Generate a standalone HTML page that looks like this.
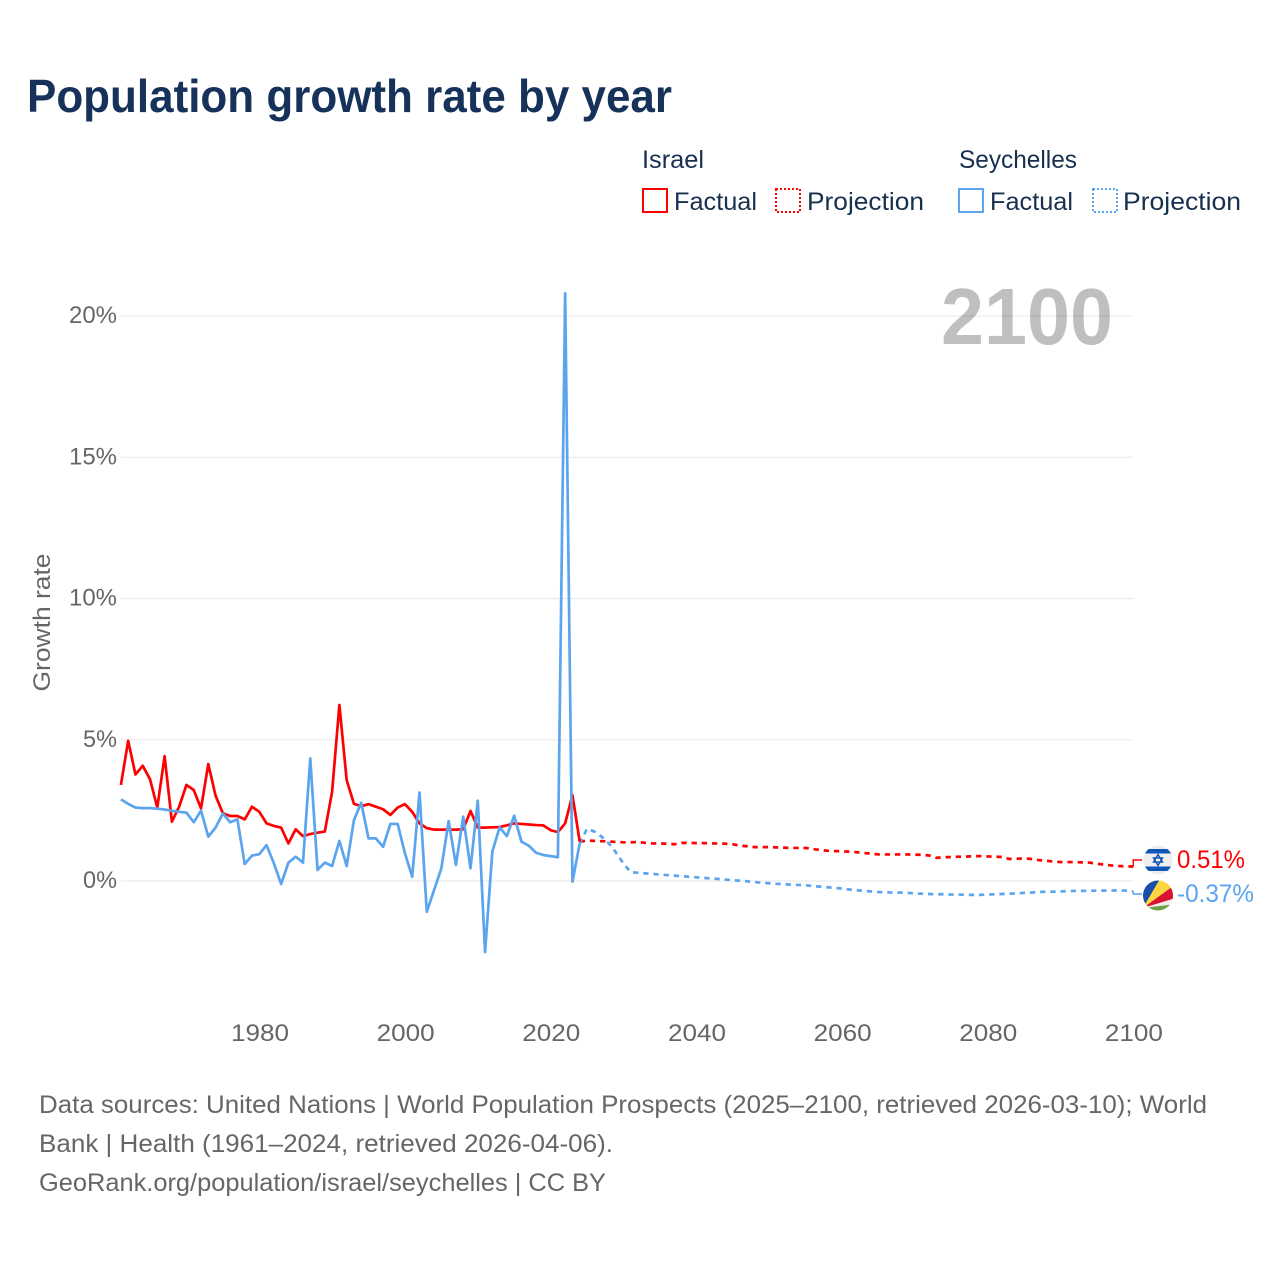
<!DOCTYPE html>
<html lang="en">
<head>
<meta charset="utf-8">
<title>Population growth rate by year</title>
<style>
  html, body { margin: 0; padding: 0; background: #fff; }
  svg { display: block; font-family: "Liberation Sans", sans-serif; }
  .muted { fill: #666; }
  .legend { fill: #17304f; font-size: 25px; }
</style>
</head>
<body>
<svg id="chart" xmlns="http://www.w3.org/2000/svg" width="1280" height="1280" viewBox="0 0 1280 1280">
  <rect x="0" y="0" width="1280" height="1280" fill="#fff"/>
  <text x="27" y="112" font-size="46" font-weight="700" fill="#17325a" textLength="645" lengthAdjust="spacingAndGlyphs">Population growth rate by year</text>

  <g>
    <text class="legend" x="642" y="168" textLength="62" lengthAdjust="spacingAndGlyphs">Israel</text>
    <text class="legend" x="959" y="168" textLength="118" lengthAdjust="spacingAndGlyphs">Seychelles</text>
    <g>
      <rect x="643" y="189" width="24" height="23" fill="none" stroke="#ff0000" stroke-width="2"/>
      <text class="legend" x="674" y="210" textLength="83" lengthAdjust="spacingAndGlyphs">Factual</text>
    </g>
    <g>
      <rect x="776" y="189" width="24" height="23" fill="none" stroke="#ff0000" stroke-width="2" stroke-dasharray="2 2"/>
      <text class="legend" x="807" y="210" textLength="117" lengthAdjust="spacingAndGlyphs">Projection</text>
    </g>
    <g>
      <rect x="959" y="189" width="24" height="23" fill="none" stroke="#5ba4ee" stroke-width="2"/>
      <text class="legend" x="990" y="210" textLength="83" lengthAdjust="spacingAndGlyphs">Factual</text>
    </g>
    <g>
      <rect x="1093" y="189" width="24" height="23" fill="none" stroke="#5ba4ee" stroke-width="2" stroke-dasharray="2 2"/>
      <text class="legend" x="1123" y="210" textLength="118" lengthAdjust="spacingAndGlyphs">Projection</text>
    </g>
  </g>

  <g id="grid"></g>
  <g id="yticks"></g>
  <g id="xticks"></g>
  <text class="muted" x="0" y="0" font-size="24" text-anchor="middle" textLength="138" lengthAdjust="spacingAndGlyphs" transform="translate(50 622.5) rotate(-90)">Growth rate</text>
  <text x="941" y="344" font-size="80" font-weight="700" fill="#000000" fill-opacity="0.25" textLength="172" lengthAdjust="spacingAndGlyphs">2100</text>

  <g id="series"></g>

  <defs>
    <clipPath id="clip-il"><circle cx="1158" cy="860" r="14.5"/></clipPath>
    <clipPath id="clip-sc"><circle cx="1158" cy="895.5" r="15"/></clipPath>
  </defs>
  <g id="flag-israel" clip-path="url(#clip-il)">
    <rect x="1142" y="844" width="32" height="32" fill="#eeeeee"/>
    <rect x="1142" y="849" width="32" height="4.5" fill="#0f55b5"/>
    <rect x="1142" y="866.5" width="32" height="4.5" fill="#0f55b5"/>
    <rect x="1142" y="844" width="32" height="5" fill="#eeeeee"/>
    <path d="M1158 854.5l4.5 7.6h-9zM1158 865.5l-4.5-7.6h9z" fill="none" stroke="#0f55b5" stroke-width="1.4"/>
  </g>
  <g id="flag-seychelles" clip-path="url(#clip-sc)">
    <rect x="1142" y="879" width="32" height="33" fill="#eeeeee"/>
    <polygon points="1143,908 1143,879 1160,879" fill="#1c50a8"/>
    <polygon points="1143,908 1160,879 1176,879 1176,884" fill="#fdd53f"/>
    <polygon points="1143,908 1176,884 1176,898" fill="#d8122f"/>
    <polygon points="1143,908 1176,898 1176,905" fill="#eeeeee"/>
    <polygon points="1143,908 1176,904 1176,913 1143,913" fill="#6fa14a"/>
  </g>

  <g>
    <text class="muted" x="39" y="1113" font-size="25" textLength="1168" lengthAdjust="spacingAndGlyphs">Data sources: United Nations | World Population Prospects (2025–2100, retrieved 2026-03-10); World</text>
    <text class="muted" x="39" y="1152" font-size="25" textLength="574" lengthAdjust="spacingAndGlyphs">Bank | Health (1961–2024, retrieved 2026-04-06).</text>
    <text class="muted" x="39" y="1191" font-size="25" textLength="567" lengthAdjust="spacingAndGlyphs">GeoRank.org/population/israel/seychelles | CC BY</text>
  </g>
</svg>
<script>
const xTicks = [1980, 2000, 2020, 2040, 2060, 2080, 2100];
const yTicks = [0, 5, 10, 15, 20];
const factualStartYear = 1961;
const projectionStartYear = 2024;

const israelFactual = [3.40,4.96,3.77,4.08,3.60,2.60,4.42,2.10,2.63,3.40,3.22,2.57,4.14,3.02,2.40,2.30,2.30,2.18,2.63,2.45,2.04,1.95,1.89,1.33,1.83,1.59,1.66,1.71,1.75,3.16,6.23,3.57,2.73,2.65,2.72,2.63,2.54,2.34,2.60,2.72,2.45,2.04,1.87,1.82,1.82,1.82,1.82,1.83,2.48,1.89,1.89,1.90,1.91,1.97,2.04,2.02,2.00,1.98,1.97,1.80,1.73,2.04,3.04,1.39];
const israelProjection = [1.39,1.43,1.42,1.41,1.40,1.38,1.37,1.37,1.38,1.35,1.33,1.33,1.32,1.30,1.35,1.35,1.34,1.34,1.33,1.33,1.32,1.30,1.25,1.23,1.20,1.20,1.20,1.19,1.18,1.17,1.17,1.17,1.13,1.10,1.07,1.06,1.05,1.04,1.02,0.99,0.97,0.94,0.94,0.94,0.94,0.94,0.93,0.93,0.90,0.82,0.84,0.85,0.86,0.86,0.88,0.88,0.87,0.86,0.85,0.78,0.79,0.80,0.78,0.74,0.72,0.69,0.67,0.67,0.67,0.66,0.65,0.61,0.58,0.55,0.53,0.52,0.51];
const seychellesFactual = [2.89,2.73,2.60,2.58,2.58,2.56,2.53,2.49,2.45,2.42,2.08,2.49,1.57,1.89,2.39,2.08,2.18,0.60,0.90,0.95,1.27,0.63,-0.11,0.65,0.86,0.65,4.34,0.39,0.65,0.53,1.42,0.53,2.16,2.77,1.51,1.51,1.21,2.02,2.02,0.98,0.15,3.13,-1.09,-0.32,0.45,2.12,0.57,2.28,0.45,2.84,-2.52,1.04,1.90,1.59,2.31,1.39,1.25,1.00,0.92,0.88,0.84,20.8,-0.02,1.33];
const seychellesProjection = [1.33,1.85,1.75,1.57,1.33,1.00,0.62,0.31,0.29,0.27,0.25,0.23,0.21,0.19,0.17,0.15,0.13,0.11,0.09,0.07,0.05,0.03,0.01,-0.01,-0.04,-0.06,-0.08,-0.10,-0.11,-0.13,-0.14,-0.15,-0.18,-0.20,-0.22,-0.24,-0.27,-0.30,-0.33,-0.35,-0.37,-0.39,-0.40,-0.41,-0.41,-0.42,-0.44,-0.45,-0.46,-0.47,-0.47,-0.48,-0.48,-0.49,-0.49,-0.49,-0.48,-0.47,-0.46,-0.45,-0.44,-0.42,-0.41,-0.39,-0.38,-0.38,-0.37,-0.36,-0.35,-0.35,-0.35,-0.34,-0.34,-0.34,-0.33,-0.34,-0.37];

const SVG_NS = 'http://www.w3.org/2000/svg';
function xScale(year) { return 120.9 + (year - 1961) * 7.283; }
function yScale(pct) { return 881 - pct * 28.25; }
function pathFrom(values, startYear) {
  return values.map(function (v, i) {
    return (i ? 'L' : 'M') + xScale(startYear + i).toFixed(2) + ' ' + yScale(v).toFixed(2);
  }).join('');
}

const gridGroup = document.getElementById('grid');
const yTickGroup = document.getElementById('yticks');
const xTickGroup = document.getElementById('xticks');
const seriesGroup = document.getElementById('series');

yTicks.forEach(function (t) {
  const line = document.createElementNS(SVG_NS, 'line');
  
  
  line.setAttribute('x1', xScale(1961));
  line.setAttribute('x2', xScale(2100));
  line.setAttribute('y1', yScale(t));
  line.setAttribute('y2', yScale(t));
  line.setAttribute('stroke', '#ececec');
  line.setAttribute('stroke-width', '1.2');
  gridGroup.appendChild(line);

  const label = document.createElementNS(SVG_NS, 'text');
  
  
  label.setAttribute('class', 'muted');
  label.setAttribute('x', 117);
  label.setAttribute('y', yScale(t) + 7);
  label.setAttribute('font-size', '24');
  label.setAttribute('text-anchor', 'end');
  label.setAttribute('textLength', t >= 10 ? 48 : 34);
  label.setAttribute('lengthAdjust', 'spacingAndGlyphs');
  label.textContent = t + '%';
  yTickGroup.appendChild(label);
});

xTicks.forEach(function (t) {
  const label = document.createElementNS(SVG_NS, 'text');
  
  
  label.setAttribute('class', 'muted');
  label.setAttribute('x', xScale(t) + 0.7);
  label.setAttribute('y', 1041);
  label.setAttribute('font-size', '24');
  label.setAttribute('text-anchor', 'middle');
  label.setAttribute('textLength', 58);
  label.setAttribute('lengthAdjust', 'spacingAndGlyphs');
  label.textContent = t;
  xTickGroup.appendChild(label);
});

function addLine(values, startYear, color, dashed, name) {
  const p = document.createElementNS(SVG_NS, 'path');
  
  
  p.setAttribute('d', pathFrom(values, startYear));
  p.setAttribute('fill', 'none');
  p.setAttribute('stroke', color);
  p.setAttribute('stroke-width', '2.7');
  p.setAttribute('stroke-linejoin', 'round');
  if (dashed) p.setAttribute('stroke-dasharray', '5.3 4.9');
  seriesGroup.appendChild(p);
}

function addEndLabel(values, color, labelY, textLen, name) {
  const last = values[values.length - 1];
  const x0 = xScale(2100);
  const y0 = yScale(last);
  const c = document.createElementNS(SVG_NS, 'path');
  
  
  c.setAttribute('d', 'M' + x0 + ' ' + y0 + 'V' + (labelY - 8) + 'H1142');
  c.setAttribute('fill', 'none');
  c.setAttribute('stroke', color);
  c.setAttribute('stroke-width', '1.4');
  seriesGroup.appendChild(c);
  const t = document.createElementNS(SVG_NS, 'text');
  
  
  t.setAttribute('x', 1177);
  t.setAttribute('y', labelY);
  t.setAttribute('font-size', '25');
  t.setAttribute('fill', color);
  t.setAttribute('textLength', textLen);
  t.setAttribute('lengthAdjust', 'spacingAndGlyphs');
  t.textContent = last.toFixed(2) + '%';
  seriesGroup.appendChild(t);
}

addLine(israelProjection, projectionStartYear, '#ff0000', true, 'israel-projection-line');
addLine(seychellesProjection, projectionStartYear, '#5ba4ee', true, 'seychelles-projection-line');
addLine(israelFactual, factualStartYear, '#ff0000', false, 'israel-factual-line');
addLine(seychellesFactual, factualStartYear, '#5ba4ee', false, 'seychelles-factual-line');
addEndLabel(israelProjection, '#ff0000', 868, 68, 'israel-end-label');
addEndLabel(seychellesProjection, '#5ba4ee', 902, 77, 'seychelles-end-label');
</script>
</body>
</html>
